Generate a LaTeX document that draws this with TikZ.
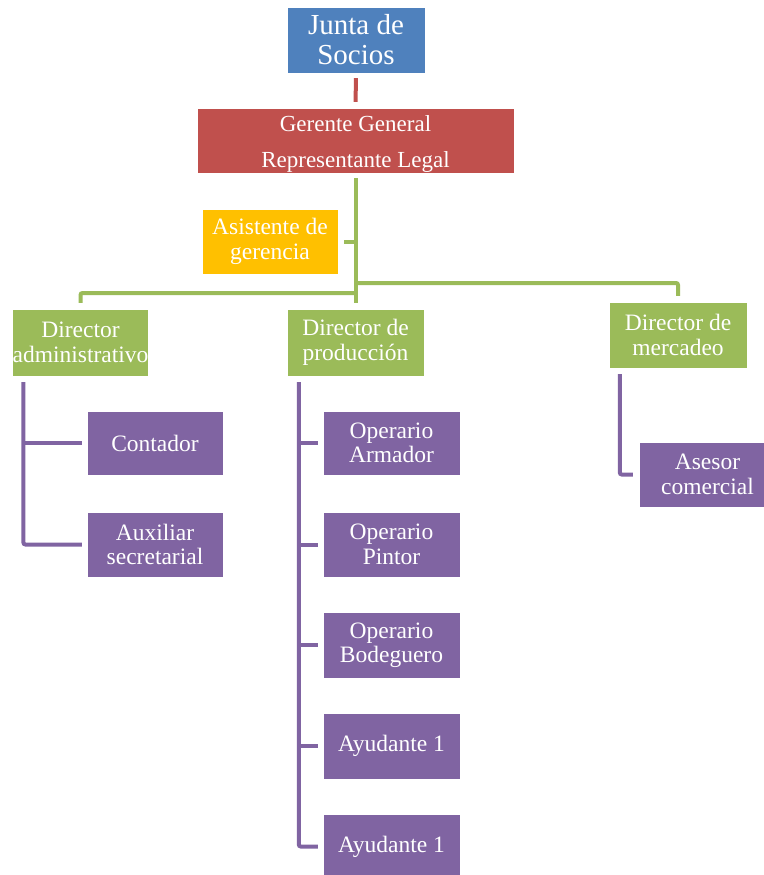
\documentclass[tikz,border=0pt]{standalone}
\usepackage{fontspec}
\setmainfont{Liberation Serif}
\definecolor{cblue}{HTML}{4F81BD}
\definecolor{cred}{HTML}{C0504D}
\definecolor{corange}{HTML}{FFC000}
\definecolor{cgreen}{HTML}{9BBB59}
\definecolor{cpurple}{HTML}{8064A2}
\begin{document}
\begin{tikzpicture}[x=1pt,y=-1pt,
  box/.style={rectangle,inner sep=0pt,text=white,align=center,draw=white,line width=0.4pt,
    font=\fontsize{23.5}{24.5}\selectfont},
  gline/.style={draw=cgreen,line width=4pt,rounded corners=2pt},
  pline/.style={draw=cpurple,line width=4pt,rounded corners=2pt},
  rline/.style={draw=cred,line width=4pt}]
\useasboundingbox (0,0) rectangle (763,875);
\fill[white] (0,0) rectangle (763,875);
% nodes
\node[box,fill=cblue,minimum width=138pt,minimum height=66pt,
  font=\fontsize{29}{30}\selectfont] (junta) at (356,40) {Junta de\\Socios};
\node[box,fill=cred,minimum width=317pt,minimum height=65pt,
  label={[text=white,align=center,font=\fontsize{23}{36}\selectfont,yshift=-4pt]center:Gerente General\\Representante Legal}] (ger) at (355.5,140.5) {};
\node[box,fill=corange,minimum width=136pt,minimum height=65pt] (asist) at (270,241.5) {Asistente de\\gerencia};
\node[box,fill=cgreen,minimum width=135pt,minimum height=67pt] (dadm) at (80.5,342.5) {Director\\administrativo};
\node[box,fill=cgreen,minimum width=137pt,minimum height=67pt] (dprod) at (355.5,342.5) {Director de\\producción};
\node[box,fill=cgreen,minimum width=138pt,minimum height=66pt] (dmer) at (678,335) {Director de\\mercadeo};
\node[box,fill=cpurple,minimum width=136pt,minimum height=64pt] (cont) at (155,443) {Contador};
\node[box,fill=cpurple,minimum width=136pt,minimum height=65pt] (aux) at (155,544.5) {Auxiliar\\secretarial};
\node[box,fill=cpurple,minimum width=137pt,minimum height=64pt] (op1) at (391.5,443) {Operario\\Armador};
\node[box,fill=cpurple,minimum width=137pt,minimum height=65pt] (op2) at (391.5,544.5) {Operario\\Pintor};
\node[box,fill=cpurple,minimum width=137pt,minimum height=66pt] (op3) at (391.5,645) {Operario\\Bodeguero};
\node[box,fill=cpurple,minimum width=137pt,minimum height=66pt] (ay1) at (391.5,746) {Ayudante 1};
\node[box,fill=cpurple,minimum width=137pt,minimum height=65pt] (ay2) at (391.5,846.5) {Ayudante 1};
\node[box,fill=cpurple,minimum width=137pt,minimum height=65pt] (ases) at (707.5,474.5) {Asesor\\comercial};
% connectors
\coordinate (bl) at (357,293);
\coordinate (br) at (354,283);
\draw[rline,shorten <=5pt,shorten >=6pt] (junta.south) -- (ger.north);
\draw[gline,shorten <=5pt,shorten >=6pt] (ger.south) -- (dprod.north);
\draw[gline,shorten <=6pt] (asist.east) -- (asist.east -| ger.south);
\draw[gline,shorten <=6pt] (dadm.north) |- (bl);
\draw[gline,shorten <=6pt] (dmer.north) |- (br);
% admin branch
\coordinate (av) at ([xshift=11pt,yshift=-6pt]dadm.south west);
\draw[pline,shorten >=5pt] (av) |- (aux.west);
\draw[pline,shorten >=5pt] (av |- cont.west) -- (cont.west);
% production branch
\coordinate (pv) at ([xshift=12pt,yshift=-6pt]dprod.south west);
\draw[pline,shorten >=5pt] (pv) |- (ay2.west);
\draw[pline,shorten >=5pt] (pv |- op1.west) -- (op1.west);
\draw[pline,shorten >=5pt] (pv |- op2.west) -- (op2.west);
\draw[pline,shorten >=5pt] (pv |- op3.west) -- (op3.west);
\draw[pline,shorten >=5pt] (pv |- ay1.west) -- (ay1.west);
% mercadeo branch
\coordinate (mv) at ([xshift=11pt,yshift=-6pt]dmer.south west);
\draw[pline,shorten >=6pt] (mv) |- (ases.west);
\end{tikzpicture}
\end{document}
